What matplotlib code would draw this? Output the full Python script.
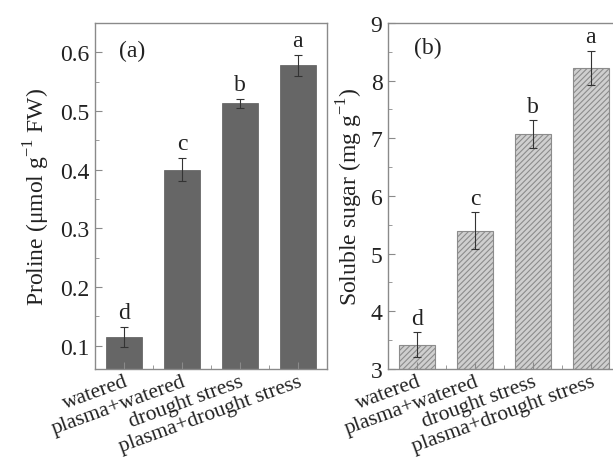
import numpy as np
import matplotlib
matplotlib.use('Agg')
import matplotlib.pyplot as plt
from matplotlib.ticker import MultipleLocator

# treatments
categories = ['watered', 'plasma+watered', 'drought stress', 'plasma+drought stress']

# (a) proline
proline = [0.115, 0.400, 0.513, 0.578]
proline_err = [0.017, 0.020, 0.008, 0.018]
proline_letters = ['d', 'c', 'b', 'a']

# (b) soluble sugar
sugar = [3.42, 5.40, 7.07, 8.22]
sugar_err = [0.22, 0.32, 0.24, 0.30]
sugar_letters = ['d', 'c', 'b', 'a']

plt.rcParams['font.family'] = ['Liberation Serif', 'DejaVu Serif']
plt.rcParams['hatch.color'] = '#8c8c8c'
plt.rcParams['hatch.linewidth'] = 0.8

fig = plt.figure(figsize=(6.13, 4.64), dpi=100)
ax1 = fig.add_axes([0.155, 0.2026, 0.378, 0.7457])
ax2 = fig.add_axes([0.633, 0.2026, 0.378, 0.7457])

x = np.arange(len(categories))
spine_col = '#8a8a8a'
text_col = '#222222'


def style_axis(ax):
    for s in ax.spines.values():
        s.set_color(spine_col)
        s.set_linewidth(1.0)
    ax.tick_params(axis='both', which='both', direction='in', color=spine_col,
                   labelcolor=text_col)
    ax.tick_params(axis='y', which='major', length=5, labelsize=17, pad=4)
    ax.tick_params(axis='y', which='minor', length=3)
    ax.tick_params(axis='x', which='major', length=5, labelsize=15.5, pad=2)
    ax.tick_params(axis='x', which='minor', length=3)
    ax.set_xlim(-0.5, 3.5)
    ax.set_xticks(x)
    ax.set_xticks(x + 0.5, minor=True)
    ax.set_xticklabels(categories, rotation=20, ha='right', rotation_mode='anchor')


# panel (a)
ax1.bar(x, proline, width=0.62, color='#666666', edgecolor='#5a5a5a', linewidth=0.5)
ax1.errorbar(x, proline, yerr=proline_err, fmt='none', ecolor='#333333',
             elinewidth=0.8, capsize=3, capthick=0.8)
for xi, v, e, t in zip(x, proline, proline_err, proline_letters):
    ax1.text(xi, v + e + 0.006, t, ha='center', va='bottom', fontsize=17, color=text_col)
ax1.set_ylim(0.06, 0.65)
ax1.yaxis.set_major_locator(MultipleLocator(0.1))
ax1.yaxis.set_minor_locator(MultipleLocator(0.05))
ax1.set_ylabel(r'Proline ($\mathregular{\mu}$mol g$^{\mathregular{-1}}$ FW)', fontsize=17,
               color=text_col, labelpad=6)
ax1.text(0.105, 0.92, '(a)', transform=ax1.transAxes, fontsize=17, color=text_col,
         va='center')
style_axis(ax1)

# panel (b)
ax2.bar(x, sugar, width=0.62, color='#cfcfcf', edgecolor='#8c8c8c', linewidth=0.8,
        hatch='//////')
ax2.errorbar(x, sugar, yerr=sugar_err, fmt='none', ecolor='#333333',
             elinewidth=0.8, capsize=3, capthick=0.8)
for xi, v, e, t in zip(x, sugar, sugar_err, sugar_letters):
    ax2.text(xi, v + e + 0.06, t, ha='center', va='bottom', fontsize=17, color=text_col)
ax2.set_ylim(3, 9)
ax2.yaxis.set_major_locator(MultipleLocator(1))
ax2.yaxis.set_minor_locator(MultipleLocator(0.5))
ax2.set_ylabel(r'Soluble sugar (mg g$^{\mathregular{-1}}$)', fontsize=17,
               color=text_col, labelpad=4)
ax2.text(0.11, 0.93, '(b)', transform=ax2.transAxes, fontsize=17, color=text_col,
         va='center')
style_axis(ax2)

fig.savefig('out.png', dpi=100)
